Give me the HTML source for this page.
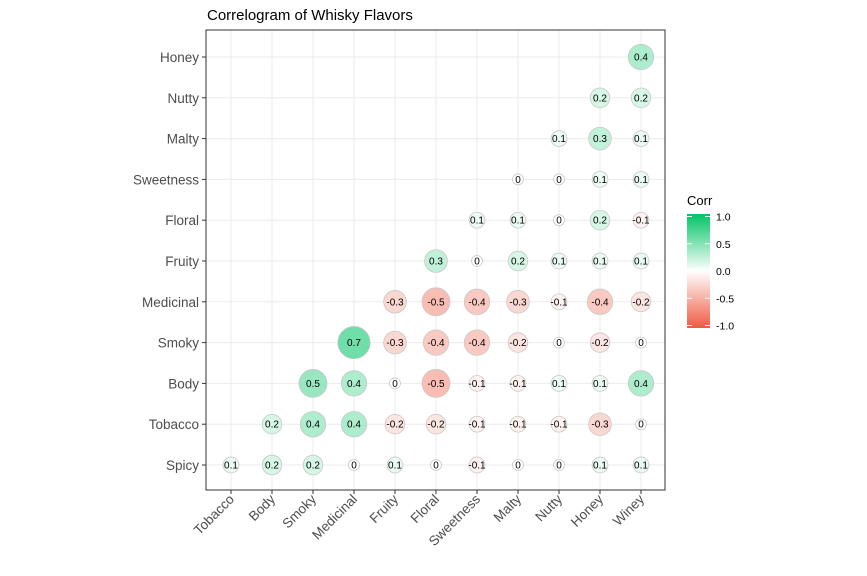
<!DOCTYPE html>
<html><head><meta charset="utf-8"><style>
body{margin:0;background:#fff;font-family:"Liberation Sans",sans-serif;}
</style></head><body>
<svg id="c" width="867" height="571" xmlns="http://www.w3.org/2000/svg">
<defs><linearGradient id="lg" x1="0" y1="1" x2="0" y2="0">
<stop offset="0" stop-color="rgb(240,90,65)"/><stop offset="0.5" stop-color="#ffffff"/><stop offset="1" stop-color="rgb(0,196,100)"/>
</linearGradient></defs>
<text x="207" y="20" font-size="15" fill="#000">Correlogram of Whisky Flavors</text>
<g id="grid"></g>
<g id="marks"></g>
<rect x="206" y="30" width="459" height="460" fill="none" stroke="#333" stroke-width="1"/>
<g id="axes"></g>
<g>
<text x="687" y="205" font-size="13">Corr</text>
<rect x="687" y="214" width="23" height="114" fill="url(#lg)"/>
<g id="leg"></g>
</g>
</svg>
<script>
const xCats=["Tobacco","Body","Smoky","Medicinal","Fruity","Floral","Sweetness","Malty","Nutty","Honey","Winey"];
const yCats=["Spicy","Tobacco","Body","Smoky","Medicinal","Fruity","Floral","Sweetness","Malty","Nutty","Honey"];
const rowSpicy=[0.1,0.2,0.2,0,0.1,0,-0.1,0,0,0.1,0.1];
const rowTobacco=[0.2,0.4,0.4,-0.2,-0.2,-0.1,-0.1,-0.1,-0.3,0];
const rowBody=[0.5,0.4,0,-0.5,-0.1,-0.1,0.1,0.1,0.4];
const rowSmoky=[0.7,-0.3,-0.4,-0.4,-0.2,0,-0.2,0];
const rowMedicinal=[-0.3,-0.5,-0.4,-0.3,-0.1,-0.4,-0.2];
const rowFruity=[0.3,0,0.2,0.1,0.1,0.1];
const rowFloral=[0.1,0.1,0,0.2,-0.1];
const rowSweetness=[0,0,0.1,0.1];
const rowMalty=[0.1,0.3,0.1];
const rowNutty=[0.2,0.2];
const rowHoney=[0.4];
const rows=[rowSpicy,rowTobacco,rowBody,rowSmoky,rowMedicinal,rowFruity,rowFloral,rowSweetness,rowMalty,rowNutty,rowHoney];
const legTicks=[1.0,0.5,0.0,-0.5,-1.0];

const NS="http://www.w3.org/2000/svg";
function xs(i){return 231+i*41;}
function ys(j){return 465-j*40.8;}
function mk(t,a,p){const e=document.createElementNS(NS,t);for(const k in a)e.setAttribute(k,a[k]);p.appendChild(e);return e;}
function col(v){const w=[255,255,255],g=[0,196,100],r=[240,90,65];const t=Math.abs(v)*0.8,c=v>=0?g:r;
return "rgb("+w.map((x,i)=>Math.round(x+(c[i]-x)*t)).join(",")+")";}
const grid=document.getElementById('grid'),marks=document.getElementById('marks'),axes=document.getElementById('axes'),leg=document.getElementById('leg');
xCats.forEach((c,i)=>{
 const l=mk('line',{x1:xs(i),x2:xs(i),y1:30,y2:490,stroke:'#ebebeb','stroke-width':1},grid);
 
 
 const tk=mk('line',{x1:xs(i),x2:xs(i),y1:490,y2:494,stroke:'#333'},axes);
 
 
 const t=mk('text',{x:xs(i)+4,y:500,'font-size':13.5,fill:'#4d4d4d','text-anchor':'end',transform:'rotate(-45 '+(xs(i)+4)+' 500)'},axes);
 t.textContent=c;
 
 
});
yCats.forEach((c,j)=>{
 const l=mk('line',{x1:206,x2:665,y1:ys(j),y2:ys(j),stroke:'#ebebeb','stroke-width':1},grid);
 
 
 const tk=mk('line',{x1:202,x2:206,y1:ys(j),y2:ys(j),stroke:'#333'},axes);
 
 
 const t=mk('text',{x:199,y:ys(j)+5,'font-size':13.5,fill:'#4d4d4d','text-anchor':'end'},axes);
 t.textContent=c;
 
 
});
rows.forEach((row,j)=>{
 row.forEach((v,k)=>{
  const i=j+k;
  const r=Math.sqrt(30+330*Math.abs(v));
  const ci=mk('circle',{cx:xs(i),cy:ys(j),r:r,fill:col(v),stroke:'#c8c8c8','stroke-width':0.8},marks);
  
  
  const t=mk('text',{x:xs(i),y:ys(j)+3.5,'font-size':10,'text-anchor':'middle',fill:'#000'},marks);
  t.textContent=String(v);
  
  
 });
});
legTicks.forEach(v=>{
 const y=271-v*54.5;
 mk('line',{x1:687,x2:692,y1:y,y2:y,stroke:'#fff'},leg);
 mk('line',{x1:705,x2:710,y1:y,y2:y,stroke:'#fff'},leg);
 const t=mk('text',{x:716,y:y+4,'font-size':10.5,fill:'#000'},leg);
 t.textContent=v.toFixed(1);
 
 
});
</script>
</body></html>
